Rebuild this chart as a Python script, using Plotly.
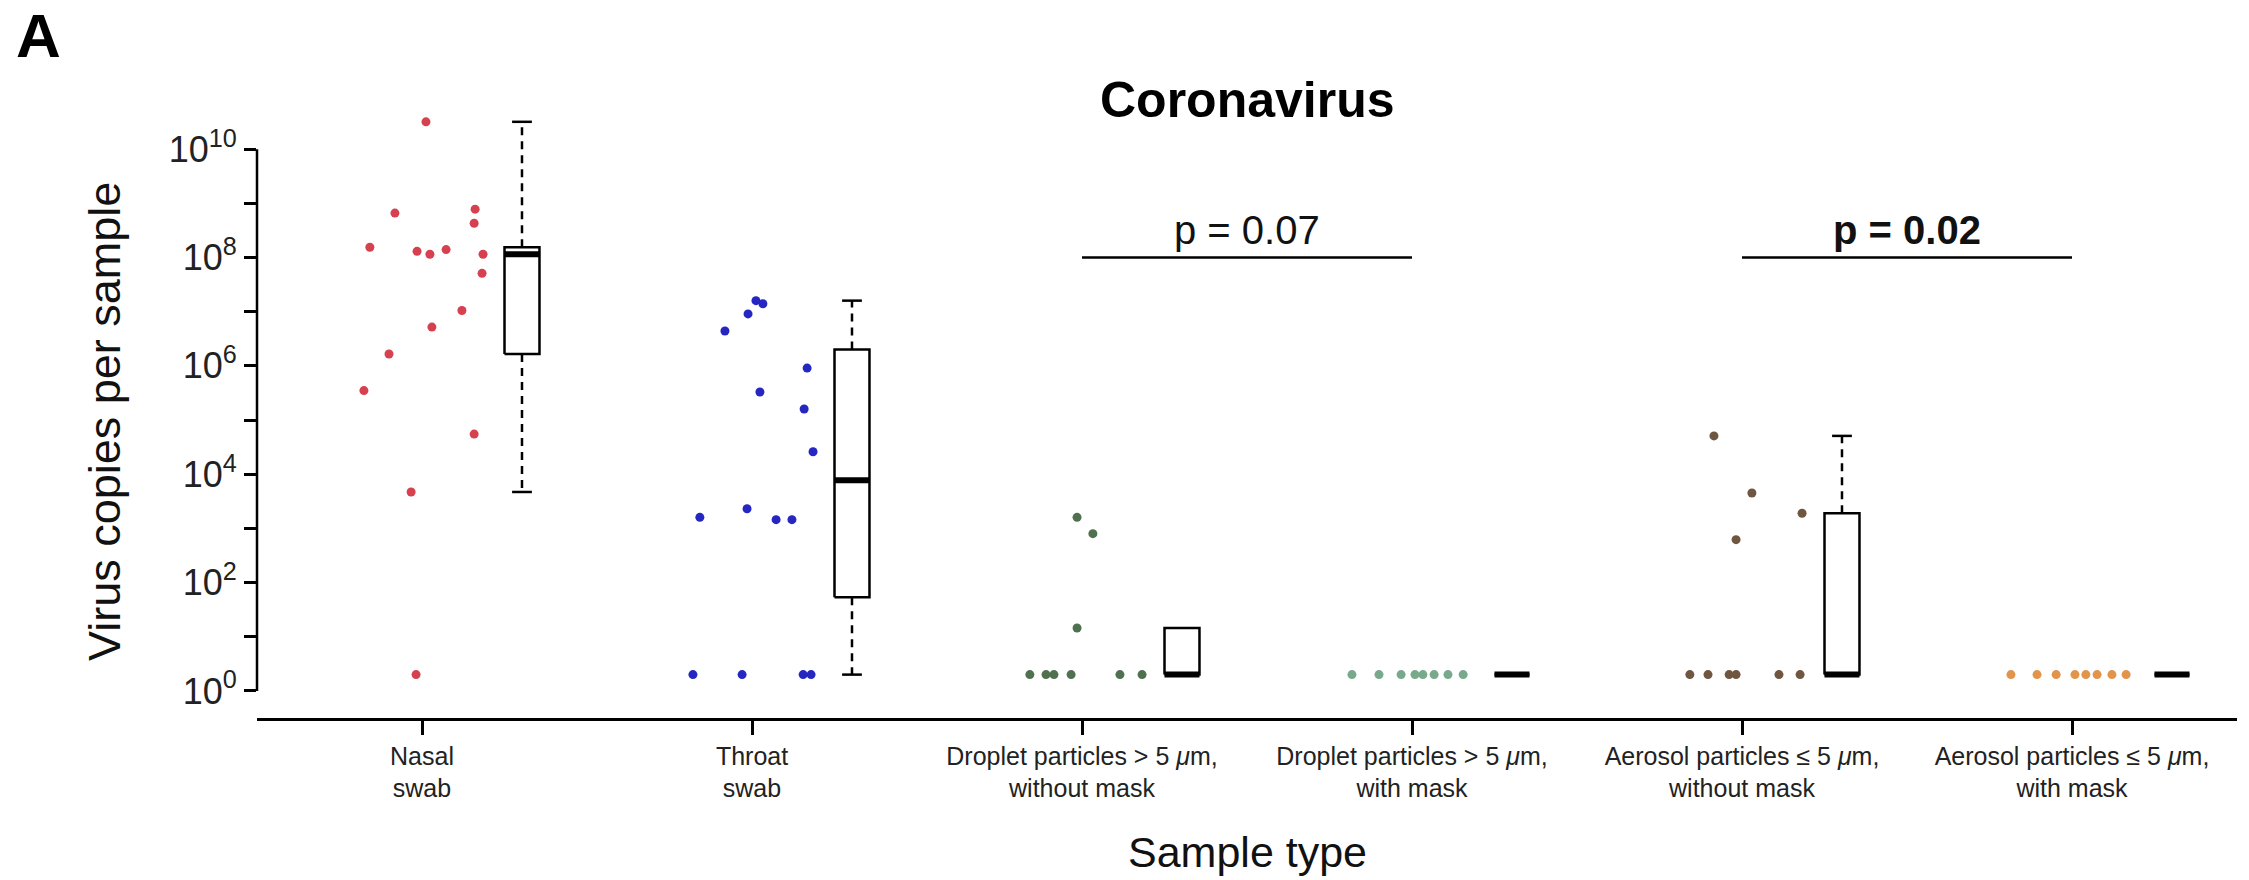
import numpy as np
import plotly.graph_objects as go

# ---------------- data ----------------
categories = [
    "Nasal<br>swab",
    "Throat<br>swab",
    "Droplet particles > 5 <i>μ</i>m,<br>without mask",
    "Droplet particles > 5 <i>μ</i>m,<br>with mask",
    "Aerosol particles ≤ 5 <i>μ</i>m,<br>without mask",
    "Aerosol particles ≤ 5 <i>μ</i>m,<br>with mask",
]

nasal_copies = [3.2e10, 6.6e8, 7.8e8, 4.3e8, 1.55e8, 1.3e8, 1.15e8, 1.4e8, 1.15e8,
                5.1e7, 1.05e7, 5.2e6, 1.66e6, 3.5e5, 5.5e4, 4.7e3, 2]
nasal_jitter = [0.012, -0.082, 0.161, 0.158, -0.158, -0.015, 0.024, 0.073, 0.185,
                0.182, 0.121, 0.030, -0.100, -0.176, 0.158, -0.033, -0.018]

throat_copies = [1.6e7, 1.4e7, 9.1e6, 4.4e6, 9.1e5, 3.3e5, 1.6e5, 2.6e4, 2.3e3,
                 1.6e3, 1.45e3, 1.45e3, 2, 2, 2, 2]
throat_jitter = [0.012, 0.033, -0.012, -0.082, 0.167, 0.024, 0.158, 0.185, -0.015,
                 -0.158, 0.073, 0.121, -0.179, -0.030, 0.155, 0.179]

droplet_nomask_copies = [1.6e3, 8.0e2, 14.5, 2, 2, 2, 2, 2, 2]
droplet_nomask_jitter = [-0.015, 0.033, -0.015, -0.158, -0.109, -0.085, -0.033, 0.115, 0.182]

droplet_mask_copies = [2, 2, 2, 2, 2, 2, 2, 2]
droplet_mask_jitter = [-0.182, -0.100, -0.033, 0.009, 0.033, 0.067, 0.109, 0.155]

aerosol_nomask_copies = [5.1e4, 4.5e3, 1.9e3, 6.2e2, 2, 2, 2, 2, 2, 2]
aerosol_nomask_jitter = [-0.085, 0.030, 0.182, -0.018, -0.158, -0.103, -0.039, -0.018, 0.112, 0.176]

aerosol_mask_copies = [2, 2, 2, 2, 2, 2, 2, 2]
aerosol_mask_jitter = [-0.185, -0.106, -0.048, 0.009, 0.042, 0.076, 0.121, 0.164]

group_colors = ["#d6404f", "#2626c2", "#4f714f", "#79a98b", "#6f5640", "#e2944b"]

y_major_powers = [0, 2, 4, 6, 8, 10]
y_major_text = ["10<sup>%d</sup>" % p for p in y_major_powers]
y_minor_powers = [1, 3, 5, 7, 9]

comparisons = [  # (from category, to category, label, bold)
    (3, 4, "p = 0.07", False),
    (5, 6, "p = 0.02", True),
]
comparison_level_copies = 1e8

# ---------------- layout constants ----------------
W, H = 2249, 880
ML, MR, MT, MB = 257, 12, 95, 162
PW, PH = W - ML - MR, H - MT - MB
FONT = "Liberation Sans, Arial, Helvetica, sans-serif"
BOX_OFFSET = 0.303
BOX_HALF = 0.053
STAPLE_HALF = 0.03
LW = 2.5


def px_x(p):
    return (p - ML) / PW


def px_y(p):
    return (H - MB - p) / PH


def fivenum(v):
    x = np.sort(np.asarray(v, dtype=float))
    n = len(x)
    n4 = np.floor((n + 3) / 2) / 2
    d = np.array([1, n4, (n + 1) / 2, n + 1 - n4, n]) - 1
    return 0.5 * (x[np.floor(d).astype(int)] + x[np.ceil(d).astype(int)])


def box_stats(v):
    v = np.asarray(v, dtype=float)
    s = fivenum(v)
    iqr = s[3] - s[1]
    inside = v[(v >= s[1] - 1.5 * iqr) & (v <= s[3] + 1.5 * iqr)]
    return inside.min(), s[1], s[2], s[3], inside.max()


groups = [
    (nasal_copies, nasal_jitter),
    (throat_copies, throat_jitter),
    (droplet_nomask_copies, droplet_nomask_jitter),
    (droplet_mask_copies, droplet_mask_jitter),
    (aerosol_nomask_copies, aerosol_nomask_jitter),
    (aerosol_mask_copies, aerosol_mask_jitter),
]

fig = go.Figure()

for i, ((copies, jit), col) in enumerate(zip(groups, group_colors)):
    pos = i + 1
    logv = np.log10(np.asarray(copies, dtype=float))
    # points
    fig.add_trace(go.Scatter(
        x=pos + np.asarray(jit), y=logv, mode="markers",
        marker=dict(size=9, color=col, line=dict(width=0)),
        cliponaxis=False, showlegend=False, hoverinfo="skip"))
    # box
    lo, q1, med, q3, hi = box_stats(logv)
    c = pos + BOX_OFFSET
    fig.add_trace(go.Scatter(
        x=[c - BOX_HALF, c + BOX_HALF, c + BOX_HALF, c - BOX_HALF, c - BOX_HALF],
        y=[q1, q1, q3, q3, q1], mode="lines",
        line=dict(color="black", width=LW), showlegend=False, hoverinfo="skip"))
    fig.add_trace(go.Scatter(
        x=[c - BOX_HALF, c + BOX_HALF], y=[med, med], mode="lines",
        line=dict(color="black", width=6), showlegend=False, hoverinfo="skip"))
    for a, b in ((q3, hi), (q1, lo)):
        if abs(b - a) > 1e-9:
            fig.add_trace(go.Scatter(
                x=[c, c], y=[a, b], mode="lines",
                line=dict(color="black", width=LW, dash="8px,6px"),
                showlegend=False, hoverinfo="skip"))
            fig.add_trace(go.Scatter(
                x=[c - STAPLE_HALF, c + STAPLE_HALF], y=[b, b], mode="lines",
                line=dict(color="black", width=LW),
                showlegend=False, hoverinfo="skip"))

shapes = [
    # y axis line from 10^0 to 10^10 (R style)
    dict(type="line", xref="paper", x0=0, x1=0, yref="y",
         y0=y_major_powers[0], y1=y_major_powers[-1],
         line=dict(color="black", width=LW)),
]
annotations = []
level = np.log10(comparison_level_copies)
for a, b, label, bold in comparisons:
    shapes.append(dict(type="line", xref="x", yref="y", x0=a, x1=b, y0=level, y1=level,
                       line=dict(color="black", width=LW)))
    annotations.append(dict(
        x=(a + b) / 2, y=level, xref="x", yref="y", yanchor="bottom", yshift=4,
        text="<b>%s</b>" % label if bold else label, showarrow=False,
        font=dict(family=FONT, size=40, color="#111")))

annotations += [
    dict(text="<b>A</b>", x=px_x(14), y=px_y(36), xref="paper", yref="paper",
         xanchor="left", yanchor="middle", showarrow=False,
         font=dict(family=FONT, size=62, color="black")),
    dict(text="<b>Coronavirus</b>", x=0.5, y=px_y(100), xref="paper", yref="paper",
         xanchor="center", yanchor="middle", showarrow=False,
         font=dict(family=FONT, size=50, color="black")),
    dict(text="Virus copies per sample", x=px_x(104), y=px_y(422), xref="paper",
         yref="paper", xanchor="center", yanchor="middle", textangle=-90,
         showarrow=False, font=dict(family=FONT, size=45, color="#111")),
    dict(text="Sample type", x=0.5, y=px_y(852), xref="paper", yref="paper",
         xanchor="center", yanchor="middle", showarrow=False,
         font=dict(family=FONT, size=43, color="#111")),
]

fig.update_layout(
    width=W, height=H,
    margin=dict(l=ML, r=MR, t=MT, b=MB, pad=0),
    paper_bgcolor="white", plot_bgcolor="white",
    showlegend=False,
    shapes=shapes, annotations=annotations,
    xaxis=dict(range=[0.5, 6.5], tickmode="array", tickvals=list(range(1, 7)),
               ticktext=categories, showgrid=False, zeroline=False,
               showline=True, linecolor="black", linewidth=LW,
               ticks="outside", ticklen=14, tickwidth=LW, tickcolor="black",
               tickfont=dict(family=FONT, size=25, color="#222"), fixedrange=True),
    yaxis=dict(range=[-0.5, 11], tickmode="array", tickvals=y_major_powers,
               ticktext=y_major_text, showgrid=False, zeroline=False, showline=False,
               ticks="outside", ticklen=12, tickwidth=LW, tickcolor="black",
               minor=dict(tickmode="array", tickvals=y_minor_powers, ticks="outside",
                          ticklen=12, tickwidth=LW, tickcolor="black", showgrid=False),
               tickfont=dict(family=FONT, size=36, color="#222"), fixedrange=True),
)

fig.write_html("out.html")
